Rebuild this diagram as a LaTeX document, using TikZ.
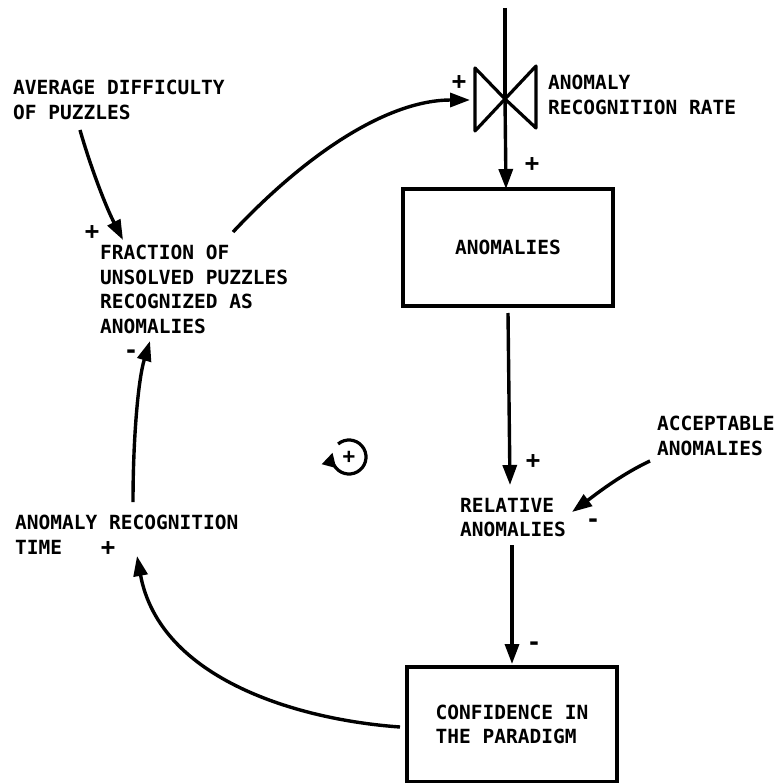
\documentclass[tikz,border=0pt]{standalone}
\usepackage{fontspec}
\newfontfamily\plotfont{DejaVu Sans Mono}
\usetikzlibrary{arrows.meta}
\begin{document}
\begin{tikzpicture}[x=1pt,y=-1pt,
  every node/.style={font=\plotfont\bfseries\fontsize{19.5}{24.5}\selectfont, inner sep=0pt},
  lbl/.style={anchor=north west, align=left},
  sgn/.style={anchor=center, font=\plotfont\bfseries\fontsize{24}{24}\selectfont},
  stockbox/.style={draw, line width=3.4pt, minimum width=210pt, align=left},
  conn/.style={line width=3.4pt, -{Triangle[length=20pt,width=14pt]}},
  plain/.style={line width=3.4pt}]
\fill[white] (0,0) rectangle (777,783);
\useasboundingbox (0,0) rectangle (777,783);

% stocks
\node[stockbox, minimum height=117pt] (anom) at (508,247.5) {ANOMALIES};
\node[stockbox, minimum height=115pt] (conf) at (512,724.5) {CONFIDENCE IN\\THE PARADIGM};

% valve
\coordinate (flowtop) at (505,8);
\coordinate (valve) at (505,99);
\draw[line width=3.2pt, line join=round] (475,68) -- (475,131) -- (valve) -- cycle;
\draw[line width=3.2pt, line join=round] (536,66) -- (536,128) -- (valve) -- cycle;
\draw[plain] (flowtop) -- (valve);
\coordinate (anomtop) at (506,189);
\draw[conn] (valve) -- (anomtop);

% texts
\node[lbl] (rate) at (548,75) {ANOMALY\\RECOGNITION RATE};
\node[lbl] (avg) at (13,80) {AVERAGE DIFFICULTY\\OF PUZZLES};
\node[lbl] (frac) at (100,245) {FRACTION OF\\UNSOLVED PUZZLES\\RECOGNIZED AS\\ANOMALIES};
\node[lbl] (art) at (15,515) {ANOMALY RECOGNITION\\TIME};
\node[lbl] (rel) at (460,498) {RELATIVE\\ANOMALIES};
\node[lbl] (acc) at (657,416) {ACCEPTABLE\\ANOMALIES};

% connector endpoints
\coordinate (fracout) at (233,232);
\coordinate (valvein) at (470,100);
\coordinate (avgout) at (80,130);
\coordinate (fracin) at (123,240);
\coordinate (artout) at (133,502);
\coordinate (fracin2) at (150,341);
\coordinate (confout) at (400,727);
\coordinate (artin) at (137,556);
\coordinate (anomout) at (508,313);
\coordinate (relin) at (510,485);
\coordinate (accout) at (650,461);
\coordinate (relin2) at (572,512);
\coordinate (relout) at (512,545);
\coordinate (confin) at (512,664);

% connectors
\draw[conn] (fracout) .. controls (310,150) and (390,100) .. (valvein);
\draw[conn] (avgout) .. controls (90,165) and (105,205) .. (fracin);
\draw[conn] (artout) .. controls (133,440) and (138,380) .. (fracin2);
\draw[conn] (confout) .. controls (300,720) and (160,680) .. (artin);
\draw[conn] (anomout) -- (relin);
\draw[conn] (accout) .. controls (620,475) and (595,495) .. (relin2);
\draw[conn] (relout) -- (confin);

% polarity signs
\node[sgn] (s1) at (459,83) {+};
\node[sgn] (s2) at (532,165) {+};
\node[sgn] (s3) at (533,462) {+};
\node[sgn] (s4) at (593,523) {-};
\node[sgn] (s5) at (534,646) {-};
\node[sgn] (s6) at (108,549) {+};
\node[sgn] (s7) at (92,233) {+};
\node[sgn] (s8) at (131,354) {-};

% loop symbol
\node[sgn, font=\plotfont\bfseries\fontsize{21}{21}\selectfont] (loopsign) at (349,457) {+};
\draw[line width=3.2pt, -{Triangle[length=14pt,width=14pt]}] (loopsign.center) ++(-130:17) arc[start angle=-130, end angle=195, radius=17];
\end{tikzpicture}
\end{document}
